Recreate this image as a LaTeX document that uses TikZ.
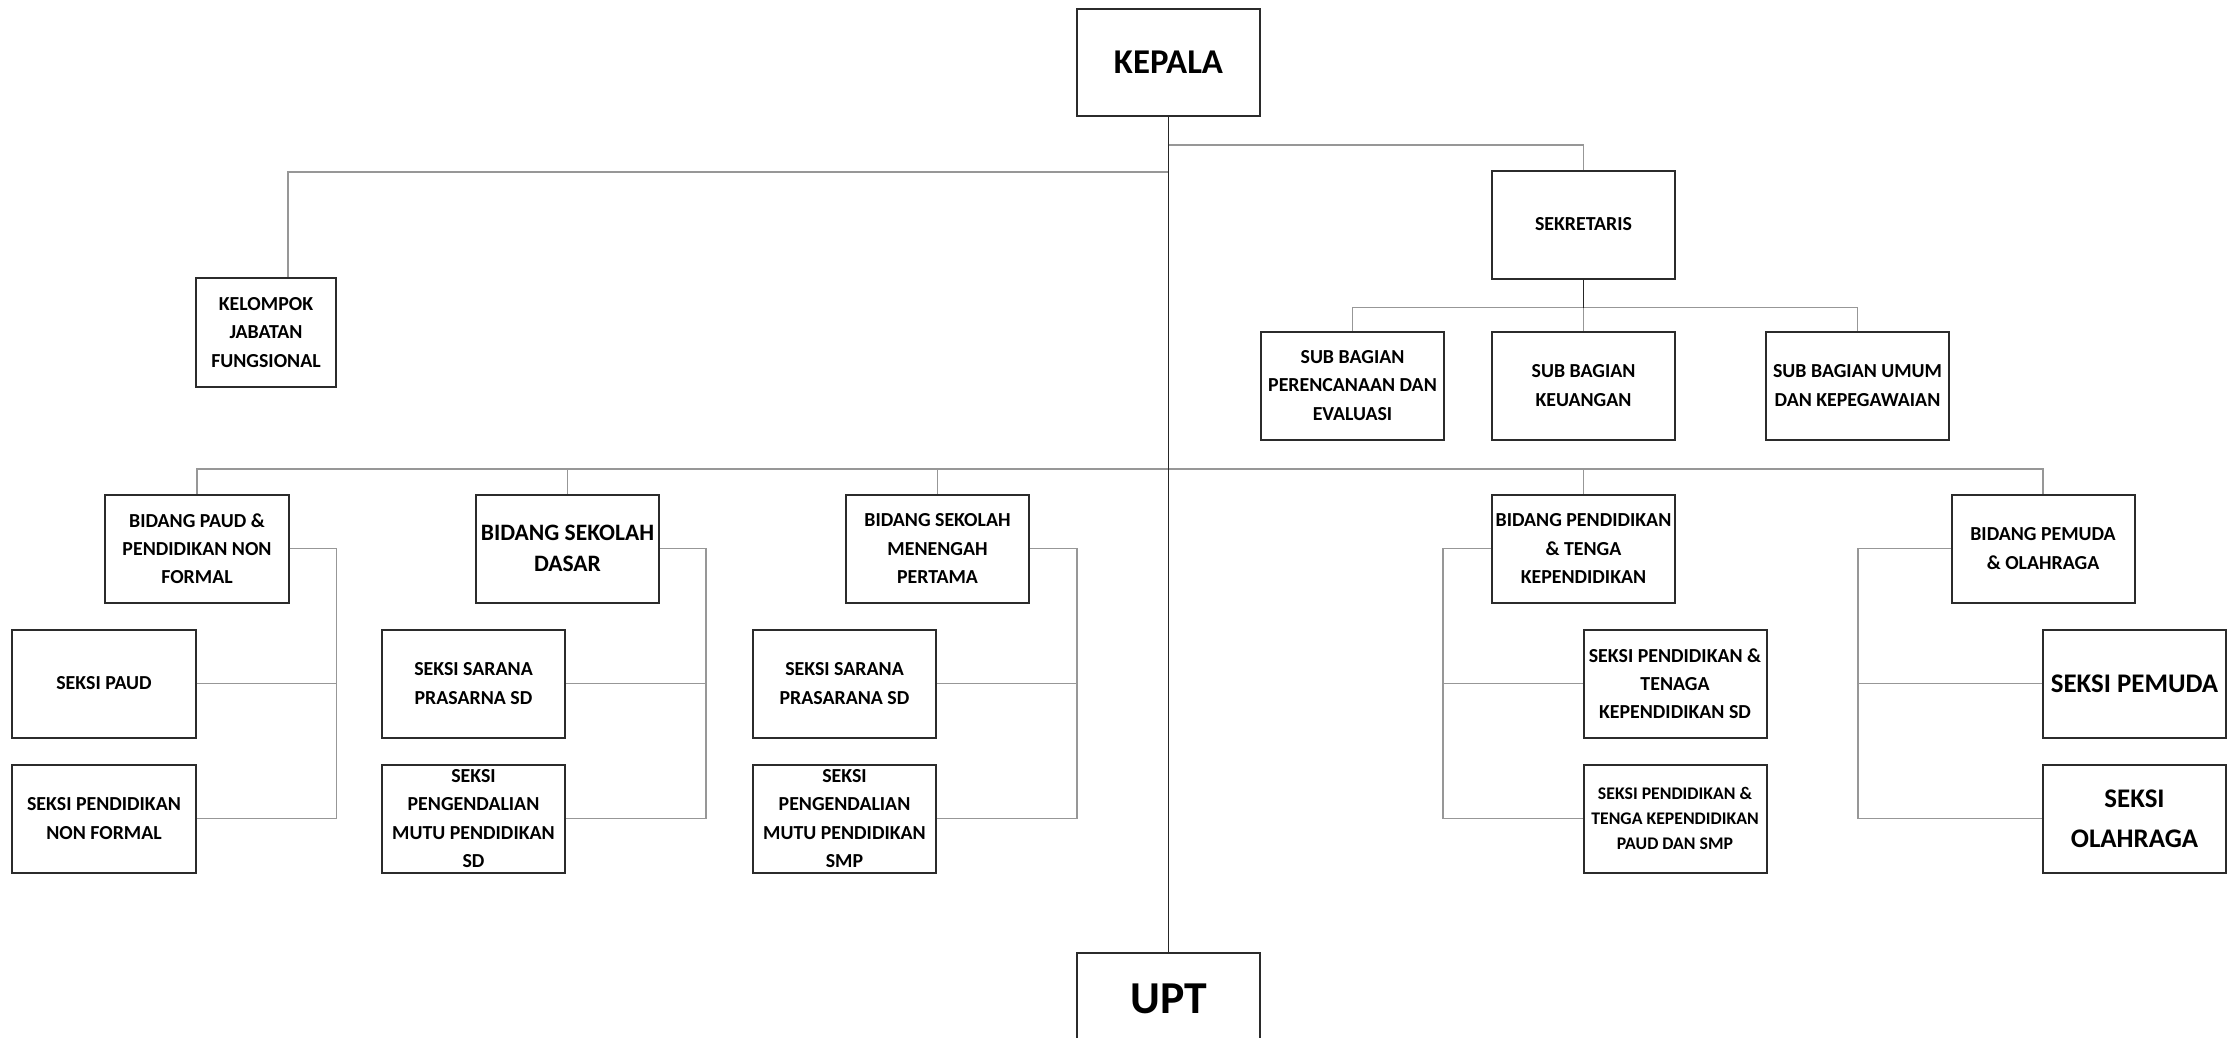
\documentclass[tikz,border=0pt]{standalone}
\usepackage{fontspec}
\setmainfont{Carlito}
\usetikzlibrary{calc,positioning}
\definecolor{frame}{HTML}{2B2B2B}
\definecolor{linegray}{HTML}{979797}
\tikzset{
  unit/.style={
    draw=frame,
    line width=0.4mm,
    fill=white,
    minimum width=36.6mm,
    minimum height=21.6mm,
    inner sep=0pt,
    align=center,
    text=black,
    font=\bfseries\fontsize{11.3}{16}\selectfont
  },
  head/.style={
    unit,
    minimum height=21.4mm,
    font=\bfseries\fontsize{19.8}{24}\selectfont
  },
  wire/.style={
    draw=linegray,
    line width=0.3mm
  },
  trunk/.style={
    draw=black!85,
    line width=0.35mm
  }
}

\begin{document}
\begin{tikzpicture}[x=0.2mm, y=-0.2mm]
  \clip (0,0) rectangle (2237,1037);
  \fill[white] (0,0) rectangle (2237,1037);

  % pimpinan
  \node[head] (kepala) at (1168.5,62.5) {KEPALA};
  \node[head, text depth=3mm, font=\bfseries\fontsize{26}{30}\selectfont] (upt) at (1168.5,1006.5) {UPT};
  \node[unit] (sekretaris) at (1583.5,224.5) {SEKRETARIS};
  \node[unit, minimum width=28mm, minimum height=21.8mm] (kelompok) at (266,332.5)
    {KELOMPOK\\JABATAN\\FUNGSIONAL};

  % sub bagian
  \node[unit] (subrenc) at (1352.5,385.5) {SUB BAGIAN\\PERENCANAAN DAN\\EVALUASI};
  \node[unit] (subkeu) at (1583.5,385.5) {SUB BAGIAN\\KEUANGAN};
  \node[unit] (subumum) at (1857.5,385.5) {SUB BAGIAN UMUM\\DAN KEPEGAWAIAN};

  % bidang
  \node[unit] (bpaud) at (197,548.5) {BIDANG PAUD \&\\PENDIDIKAN NON\\FORMAL};
  \node[unit, font=\bfseries\fontsize{13.4}{17.6}\selectfont] (bsd) at (567.5,548.5)
    {BIDANG SEKOLAH\\DASAR};
  \node[unit] (bsmp) at (937.5,548.5) {BIDANG SEKOLAH\\MENENGAH\\PERTAMA};
  \node[unit] (bptk) at (1583.5,548.5) {BIDANG PENDIDIKAN\\\& TENGA\\KEPENDIDIKAN};
  \node[unit] (bpemuda) at (2043,548.5) {BIDANG PEMUDA\\\& OLAHRAGA};

  % seksi
  \node[unit] (spaud) at (104,683.5) {SEKSI PAUD};
  \node[unit] (snonformal) at (104,818.5) {SEKSI PENDIDIKAN\\NON FORMAL};
  \node[unit] (ssaranasd) at (473.5,683.5) {SEKSI SARANA\\PRASARNA SD};
  \node[unit] (smutusd) at (473.5,818.5) {SEKSI\\PENGENDALIAN\\MUTU PENDIDIKAN\\SD};
  \node[unit] (ssaranasmp) at (844.5,683.5) {SEKSI SARANA\\PRASARANA SD};
  \node[unit] (smutusmp) at (844.5,818.5) {SEKSI\\PENGENDALIAN\\MUTU PENDIDIKAN\\SMP};
  \node[unit] (sptksd) at (1675,683.5) {SEKSI PENDIDIKAN \&\\TENAGA\\KEPENDIDIKAN SD};
  \node[unit, font=\bfseries\fontsize{10.1}{14.3}\selectfont] (sptksmp) at (1675,818.5)
    {SEKSI PENDIDIKAN \&\\TENGA KEPENDIDIKAN\\PAUD DAN SMP};
  \node[unit, font=\bfseries\fontsize{15.3}{22.7}\selectfont] (spemuda) at (2134.5,683.5)
    {SEKSI PEMUDA};
  \node[unit, font=\bfseries\fontsize{15.3}{22.7}\selectfont] (solahraga) at (2134.5,818.5)
    {SEKSI\\OLAHRAGA};

  % titik cabang
  \coordinate (rtee) at ($(kepala.south)+(0,28)$);
  \coordinate (ltee) at ($(kepala.south)+(0,55)$);
  \coordinate (btee) at ($(kepala.south)+(0,352)$);
  \coordinate (stee) at ($(sekretaris.south)+(0,28)$);

  \draw[wire] (rtee) -| (sekretaris.north);
  \draw[wire] (ltee) -| ([xshift=4.4mm]kelompok.north);
  \draw[wire] (subrenc.north) |- (stee) -| (subumum.north);
  \draw[wire] (stee) -- (subkeu.north);
  \draw[trunk] (sekretaris.south) -- (stee);

  \draw[wire] (bpaud.north) |- (btee) -| (bpemuda.north);
  \draw[wire] (bsd.north) -- (bsd.north |- btee);
  \draw[wire] (bsmp.north) -- (bsmp.north |- btee);
  \draw[wire] (bptk.north) -- (bptk.north |- btee);

  % kurung seksi
  \coordinate (kpaud) at ($(bpaud.east)+(47,0)$);
  \coordinate (ksd) at ($(bsd.east)+(46,0)$);
  \coordinate (ksmp) at ($(bsmp.east)+(47,0)$);
  \coordinate (kptk) at ($(bptk.west)+(-48,0)$);
  \coordinate (kpemuda) at ($(bpemuda.west)+(-92.5,0)$);

  \draw[wire] (bpaud.east) -- (kpaud) |- (snonformal.east);
  \draw[wire] (spaud.east) -- (spaud.east -| kpaud);
  \draw[wire] (bsd.east) -- (ksd) |- (smutusd.east);
  \draw[wire] (ssaranasd.east) -- (ssaranasd.east -| ksd);
  \draw[wire] (bsmp.east) -- (ksmp) |- (smutusmp.east);
  \draw[wire] (ssaranasmp.east) -- (ssaranasmp.east -| ksmp);
  \draw[wire] (bptk.west) -- (kptk) |- (sptksmp.west);
  \draw[wire] (sptksd.west) -- (sptksd.west -| kptk);
  \draw[wire] (bpemuda.west) -- (kpemuda) |- (solahraga.west);
  \draw[wire] (spemuda.west) -- (spemuda.west -| kpemuda);

  \draw[trunk] (kepala.south) -- (upt.north);
\end{tikzpicture}
\end{document}
